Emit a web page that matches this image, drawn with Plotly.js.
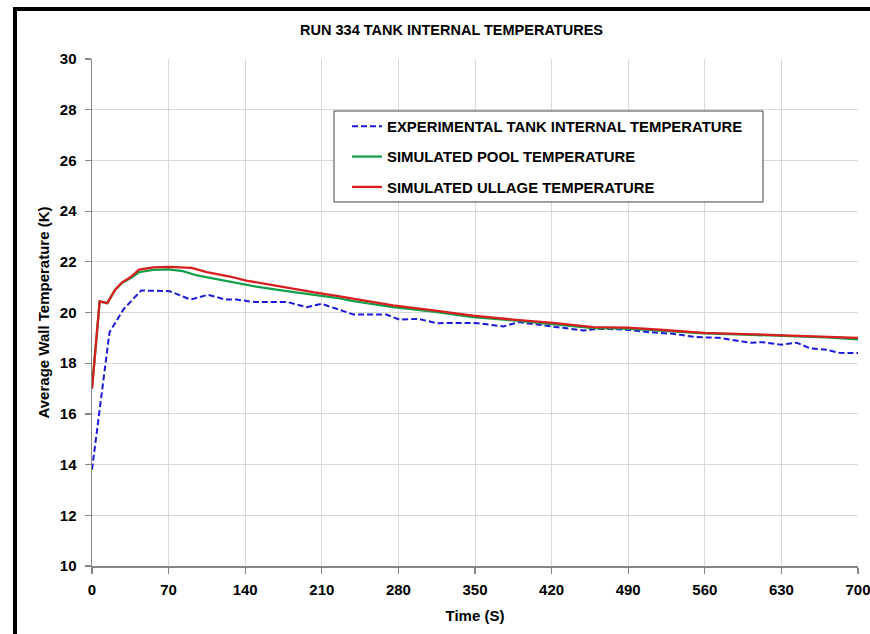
<!DOCTYPE html>
<html>
<head>
<meta charset="utf-8">
<script src="https://cdn.plot.ly/plotly-3.0.1.min.js"></script>
<style>
  html, body { margin: 0; padding: 0; background: #fff; overflow: hidden; }
  #wrap { position: relative; width: 870px; height: 634px; }
  #chart { width: 870px; height: 634px; }
  #frame { position: absolute; left: 13px; top: 7px; right: -20px; bottom: -20px;
           border: 4px solid #000; pointer-events: none; }
</style>
</head>
<body>
<div id="wrap">
  <div id="chart"></div>
  <div id="frame"></div>
</div>
<script>
// ---- data ----
const expTime = [0, 16, 29, 45, 71, 90, 106, 122, 132, 149, 179, 196, 210, 227, 239, 269, 281, 298, 315, 350, 376, 390, 421, 449, 464, 489, 507, 531, 552, 573, 601, 613, 630, 644, 656, 671, 683, 700];
const expTemp = [13.8, 19.22, 20.14, 20.87, 20.84, 20.51, 20.70, 20.51, 20.51, 20.41, 20.41, 20.21, 20.34, 20.08, 19.92, 19.92, 19.72, 19.75, 19.58, 19.59, 19.45, 19.62, 19.46, 19.29, 19.36, 19.32, 19.23, 19.16, 19.03, 19.00, 18.81, 18.83, 18.73, 18.81, 18.59, 18.53, 18.41, 18.40];

const poolTime = [0, 7, 14, 21, 27, 35, 43, 56, 70, 83, 96, 111, 129, 150, 178, 202, 225, 239, 275, 312, 348, 385, 421, 458, 489, 519, 559, 589, 620, 647, 671, 700];
const poolTemp = [17.0, 20.44, 20.37, 20.89, 21.15, 21.35, 21.59, 21.68, 21.70, 21.63, 21.46, 21.33, 21.19, 21.02, 20.84, 20.70, 20.57, 20.45, 20.21, 20.04, 19.82, 19.69, 19.55, 19.38, 19.36, 19.29, 19.18, 19.14, 19.10, 19.05, 19.02, 18.94];

const ullageTime = [0, 7, 14, 21, 27, 35, 43, 56, 70, 91, 105, 126, 141, 163, 178, 202, 225, 239, 275, 312, 348, 385, 421, 458, 489, 519, 559, 589, 620, 647, 671, 700];
const ullageTemp = [17.0, 20.44, 20.37, 20.89, 21.17, 21.39, 21.69, 21.78, 21.80, 21.76, 21.59, 21.42, 21.26, 21.09, 20.96, 20.80, 20.65, 20.55, 20.28, 20.08, 19.88, 19.72, 19.59, 19.42, 19.40, 19.32, 19.20, 19.16, 19.12, 19.07, 19.06, 19.00];

const seriesNames = ["EXPERIMENTAL TANK INTERNAL TEMPERATURE", "SIMULATED POOL TEMPERATURE", "SIMULATED ULLAGE TEMPERATURE"];
const xTicks = [0, 70, 140, 210, 280, 350, 420, 490, 560, 630, 700];
const yTicks = [10, 12, 14, 16, 18, 20, 22, 24, 26, 28, 30];

const FONT = "Liberation Sans, Arial, sans-serif";

const traces = [
  { x: expTime, y: expTemp, name: seriesNames[0], mode: "lines", legendgroup: "a",
    line: { color: "#1a1adb", width: 2, dash: "6px,3px" } },
  { x: poolTime, y: poolTemp, name: seriesNames[1], mode: "lines", legendgroup: "b",
    line: { color: "#12a04a", width: 2.3 } },
  { x: ullageTime, y: ullageTemp, name: seriesNames[2], mode: "lines", legendgroup: "c",
    line: { color: "#d81e1e", width: 2.3 } }
];

const axisCommon = {
  showline: true, linecolor: "#868686", linewidth: 1.5,
  ticks: "outside", ticklen: 6, tickcolor: "#868686", tickwidth: 1.2,
  showgrid: true, gridcolor: "#d9d9d9", gridwidth: 1,
  zeroline: false, automargin: false, ticklabeloverflow: "allow",
  tickfont: { family: FONT, size: 15, color: "#000", weight: "bold" }
};

const layout = {
  width: 870, height: 634,
  margin: { l: 92, r: 12, t: 59, b: 68 },
  paper_bgcolor: "#fff", plot_bgcolor: "#fff",
  title: { text: "RUN 334 TANK INTERNAL TEMPERATURES", xref: "container", x: 0.519,
           yref: "container", y: 1 - 30 / 634, yanchor: "middle", xanchor: "center",
           font: { family: FONT, size: 14.5, color: "#000", weight: "bold" } },
  xaxis: Object.assign({}, axisCommon, {
    range: [0, 700], tickvals: xTicks, ticktext: xTicks.map(String), ticklabelstandoff: 3,
    title: { text: "Time (S)", standoff: 14, font: { family: FONT, size: 15, color: "#000", weight: "bold" } }
  }),
  yaxis: Object.assign({}, axisCommon, {
    range: [10, 30], tickvals: yTicks, ticktext: yTicks.map(String), ticklabelstandoff: 5,
    title: { text: "Average Wall Temperature (K)", standoff: 6, font: { family: FONT, size: 15, color: "#000", weight: "bold" } }
  }),
  showlegend: true,
  legend: {
    x: (347 - 92) / 766, y: (566 - 110) / 507, xanchor: "left", yanchor: "top",
    bgcolor: "rgba(0,0,0,0)", borderwidth: 0,
    traceorder: "grouped", tracegroupgap: 8,
    font: { family: FONT, size: 14.9, color: "#000", weight: "bold" }
  },
  shapes: [
    { type: "rect", xref: "paper", yref: "paper", layer: "above",
      x0: (334 - 92) / 766, x1: (763 - 92) / 766, y0: (566 - 202) / 507, y1: (566 - 111) / 507,
      line: { color: "#404040", width: 1 }, fillcolor: "#fff" }
  ]
};

Plotly.newPlot("chart", traces, layout, { displayModeBar: false, staticPlot: true });
</script>
</body>
</html>
